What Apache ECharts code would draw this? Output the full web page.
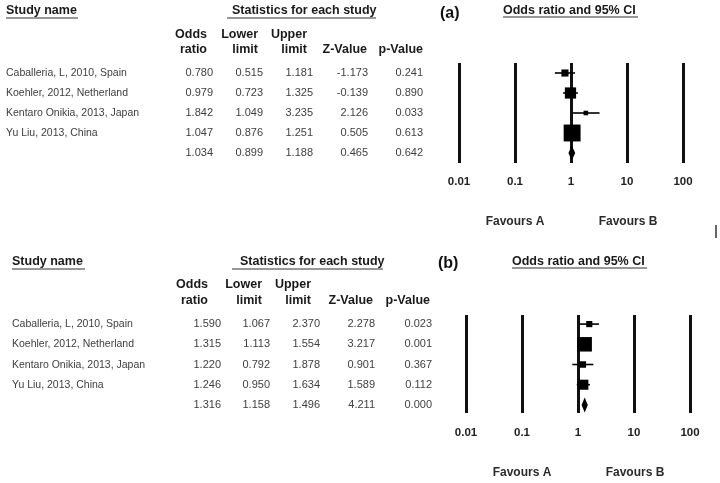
<!DOCTYPE html>
<html>
<head>
<meta charset="utf-8">
<script src="https://cdn.jsdelivr.net/npm/echarts@6/dist/echarts.min.js"></script>
<style>html,body{margin:0;padding:0;background:#fff}#c{width:720px;height:483px}</style>
</head>
<body>
<div id="c"></div>
<script>
// ---------- DATA ----------
const studies = ['Caballeria, L, 2010, Spain', 'Koehler, 2012, Netherland', 'Kentaro Onikia, 2013, Japan', 'Yu Liu, 2013, China'];
// Panel (a)
const orA    = [0.780, 0.979, 1.842, 1.047, 1.034];
const lowA   = [0.515, 0.723, 1.049, 0.876, 0.899];
const upA    = [1.181, 1.325, 3.235, 1.251, 1.188];
const zA     = [-1.173, -0.139, 2.126, 0.505, 0.465];
const pA     = [0.241, 0.890, 0.033, 0.613, 0.642];
const wA     = [12, 30, 5, 68];      // relative weights (box area)
// Panel (b)
const orB    = [1.590, 1.315, 1.220, 1.246, 1.316];
const lowB   = [1.067, 1.113, 0.792, 0.950, 1.158];
const upB    = [2.370, 1.554, 1.878, 1.634, 1.496];
const zB     = [2.278, 3.217, 0.901, 1.589, 4.211];
const pB     = [0.023, 0.001, 0.367, 0.112, 0.000];
const wB     = [9, 50, 10, 24];
const tickLabels = ['0.01', '0.1', '1', '10', '100'];
const colHead1 = ['Odds', 'Lower', 'Upper', '', ''];
const colHead2 = ['ratio', 'limit', 'limit', 'Z-Value', 'p-Value'];

// ---------- LAYOUT ----------
const FONT = "'Liberation Sans', Arial, sans-serif";
const panels = [
  { label: '(a)', or: orA, low: lowA, up: upA, z: zA, p: pA, w: wA,
    nameX: 6, headY: 11, ulY: 18, studyUl: [6, 78], statsX: 232, statsUl: [227, 376],
    tagX: 440, tagY: 14, ciX: 503, ciUl: [503, 638],
    hdrRight: [207, 258, 307, 367, 423], hdrY: [35, 50],
    numRight: [213, 263, 313, 368, 423], rowY: [73, 93, 113, 133, 153],
    grid: { left: 459, top: 63, width: 224, height: 100 }, yMin: 0.5, yMax: 5.5, margin: 13,
    favY: 222, favX: [515, 628] },
  { label: '(b)', or: orB, low: lowB, up: upB, z: zB, p: pB, w: wB,
    nameX: 12, headY: 262, ulY: 269, studyUl: [12, 85], statsX: 240, statsUl: [232, 383],
    tagX: 438, tagY: 264, ciX: 512, ciUl: [512, 647],
    hdrRight: [208, 262, 311, 373, 430], hdrY: [285, 301],
    numRight: [221, 270, 320, 375, 432], rowY: [324, 344, 365, 385, 405],
    grid: { left: 466, top: 315, width: 224, height: 98 }, yMin: 0.55, yMax: 5.4, margin: 14,
    favY: 473, favX: [522, 635] }
];

const graphic = [];
function txt(text, x, y, font, fill, align) {
  graphic.push({ type: 'text', silent: true, style: { text, x, y, font, fill: fill || '#222', align: align || 'left', verticalAlign: 'middle' } });
}
function line(x1, y1, x2, y2, w, c) {
  graphic.push({ type: 'line', silent: true, shape: { x1, y1, x2, y2 }, style: { stroke: c || '#222', lineWidth: w || 1 } });
}

const grids = [], xAxes = [], yAxes = [], series = [];
panels.forEach((P, k) => {
  const HB = 'bold 12.5px ' + FONT;
  txt('Study name', P.nameX, P.headY, HB, '#1a1a1a');
  line(P.studyUl[0], P.ulY, P.studyUl[1], P.ulY, 1.2, '#333');
  txt('Statistics for each study', P.statsX, P.headY, HB, '#1a1a1a');
  line(P.statsUl[0], P.ulY, P.statsUl[1], P.ulY, 1.2, '#333');
  txt(P.label, P.tagX, P.tagY, 'bold 16px ' + FONT, '#111');
  txt('Odds ratio and 95% CI', P.ciX, P.headY, HB, '#1a1a1a');
  line(P.ciUl[0], P.ulY - 1, P.ciUl[1], P.ulY - 1, 1.2, '#333');
  for (let c = 0; c < 5; c++) {
    if (colHead1[c]) txt(colHead1[c], P.hdrRight[c], P.hdrY[0], HB, '#1a1a1a', 'right');
    txt(colHead2[c], P.hdrRight[c], P.hdrY[1], HB, '#1a1a1a', 'right');
  }
  const NF = '11px ' + FONT;
  for (let r = 0; r < 5; r++) {
    if (r < studies.length) txt(studies[r], P.nameX, P.rowY[r], '10.5px ' + FONT, '#404040');
    const vals = [P.or[r], P.low[r], P.up[r], P.z[r], P.p[r]];
    vals.forEach((v, c) => txt(v.toFixed(3), P.numRight[c], P.rowY[r], NF, '#404040', 'right'));
  }
  txt('Favours A', P.favX[0], P.favY, 'bold 12px ' + FONT, '#2a2a2a', 'center');
  txt('Favours B', P.favX[1], P.favY, 'bold 12px ' + FONT, '#2a2a2a', 'center');

  grids.push(Object.assign({}, P.grid, { containLabel: false }));
  xAxes.push({
    type: 'log', logBase: 10, min: 0.01, max: 100, gridIndex: k,
    axisLine: { show: false }, axisTick: { show: false },
    splitLine: { show: true, showMinLine: true, showMaxLine: true, lineStyle: { color: '#111', width: 3 } },
    axisLabel: { margin: P.margin, color: '#222', fontFamily: FONT, fontWeight: 'bold', fontSize: 11.5,
      formatter: v => tickLabels[Math.round(Math.log10(v)) + 2] }
  });
  yAxes.push({ type: 'value', gridIndex: k, inverse: true, min: P.yMin, max: P.yMax, show: false, splitLine: { show: false } });

  const data = P.or.map((o, r) => [r + 1, o, P.low[r], P.up[r], r < P.w.length ? P.w[r] : -1]);
  series.push({
    type: 'custom', xAxisIndex: k, yAxisIndex: k, data, encode: { x: [1, 2, 3], y: 0 }, clip: false, z: 5,
    renderItem: (params, api) => {
      const row = api.value(0), o = api.value(1), lo = api.value(2), hi = api.value(3), w = api.value(4);
      const pc = api.coord([o, row]), pl = api.coord([lo, row]), ph = api.coord([hi, row]);
      if (w < 0) {
        const h = 7.5;
        return { type: 'polygon', shape: { points: [[pl[0], pc[1]], [pc[0], pc[1] - h], [ph[0], pc[1]], [pc[0], pc[1] + h]] },
          style: { fill: '#000' } };
      }
      const s = 2.05 * Math.sqrt(w);
      return { type: 'group', children: [
        { type: 'line', shape: { x1: pl[0], y1: pc[1], x2: ph[0], y2: pc[1] }, style: { stroke: '#000', lineWidth: 1.6 } },
        { type: 'rect', shape: { x: pc[0] - s / 2, y: pc[1] - s / 2, width: s, height: s }, style: { fill: '#000' } }
      ] };
    }
  });
});
// stray vertical mark at right of the figure
line(716, 225, 716, 238, 1.5, '#333');

const chart = echarts.init(document.getElementById('c'), null, { renderer: 'canvas' });
chart.setOption({
  backgroundColor: '#fff', animation: false,
  grid: grids, xAxis: xAxes, yAxis: yAxes, series, graphic
});
</script>
</body>
</html>
